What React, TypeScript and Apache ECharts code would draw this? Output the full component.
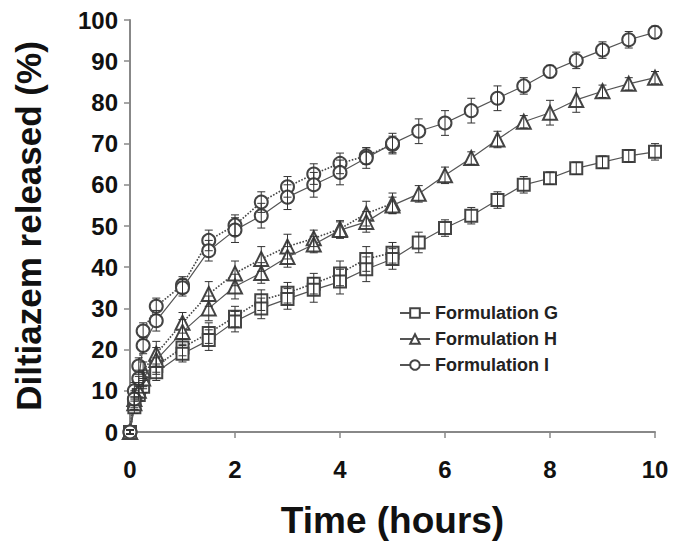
import React, { useEffect, useRef } from "react";
import * as echarts from "echarts";

const times = [0, 0.083, 0.167, 0.25, 0.5, 1, 1.5, 2, 2.5, 3, 3.5, 4, 4.5, 5, 5.5, 6, 6.5, 7, 7.5, 8, 8.5, 9, 9.5, 10];
const dottedTimes = [0, 0.083, 0.167, 0.25, 0.5, 1, 1.5, 2, 2.5, 3, 3.5, 4, 4.5, 5];

const gSolid = [0, 6, 9, 11, 14.5, 19, 22.3, 26.8, 30, 32.3, 34.5, 36.5, 39.5, 42, 46, 49.5, 52.5, 56.3, 60, 61.6, 64, 65.5, 67, 68];
const gDotted = [0, 7, 10, 12.5, 16, 20.5, 24, 28, 32, 33.8, 36, 38.5, 42, 43.5];
const hSolid = [0, 7, 10, 13, 17.5, 24.3, 30, 35.3, 38.6, 42.5, 45.5, 49, 51, 55, 57.8, 62.3, 66.5, 71, 75.3, 77.5, 80.6, 82.7, 84.5, 86];
const hDotted = [0, 8, 11.5, 15, 19, 26.5, 33.5, 38.5, 42, 45, 47, 49.3, 53, 55.5];
const iSolid = [0, 8, 13, 21, 27, 35, 44, 49, 52.5, 57, 60, 63, 66.5, 70, 73, 75, 78, 81, 84, 87.5, 90.2, 92.7, 95.2, 97];
const iDotted = [0, 10, 16, 24.5, 30.5, 35.7, 46.5, 50.2, 55.8, 59.5, 62.6, 65.2, 67, 69.8];

const gSolidErr = [0.5, 1.5, 1.5, 1.5, 2, 2, 2.5, 2.5, 2.5, 2.5, 3, 3, 3, 2.5, 2.5, 2, 2, 2, 2, 1.5, 1.5, 1.5, 1.5, 2];
const gDottedErr = [0.5, 1.5, 1.5, 2, 2, 2, 2.5, 2.5, 2.5, 2.5, 2.5, 3, 3, 2.5];
const hSolidErr = [0.5, 1.5, 2, 2, 3, 3, 3, 3, 2.5, 2.5, 2, 2, 2.5, 2, 2, 2, 1.5, 2, 1.5, 3, 3, 1.5, 1.5, 1.5];
const hDottedErr = [0.5, 1.5, 2, 2, 3, 2.5, 3, 3, 3, 3, 2, 2, 3, 2.5];
const iSolidErr = [0.5, 2, 2, 2, 2.5, 2, 2.5, 3, 3, 3, 3, 3, 2.5, 2.5, 3, 3, 3, 3, 2, 1.5, 2, 2, 2, 1.5];
const iDottedErr = [0.5, 2, 2, 2, 2, 2, 2.5, 2.5, 2.5, 2.5, 2.5, 2.5, 2, 2];

const legendNames = ["Formulation G", "Formulation H", "Formulation I"];
const FONT = "'Liberation Sans', Arial, sans-serif";

function pairs(xs: number[], ys: number[]) {
  return xs.map((x, i) => [x, ys[i]]);
}
function errs(xs: number[], ys: number[], e: number[]) {
  return xs.map((x, i) => [x, ys[i] - e[i], ys[i] + e[i]]);
}

const errRender = (params: any, api: any) => {
  const x = api.value(0);
  const lo = api.value(1);
  const hi = api.value(2);
  const p1 = api.coord([x, hi]);
  const p2 = api.coord([x, lo]);
  const w = 4;
  const st = { stroke: "#333", lineWidth: 1 };
  return {
    type: "group",
    children: [
      { type: "line", shape: { x1: p1[0], y1: p1[1], x2: p2[0], y2: p2[1] }, style: st },
      { type: "line", shape: { x1: p1[0] - w, y1: p1[1], x2: p1[0] + w, y2: p1[1] }, style: st },
      { type: "line", shape: { x1: p2[0] - w, y1: p2[1], x2: p2[0] + w, y2: p2[1] }, style: st },
    ],
  };
};

export default function App() {
  const ref = useRef<HTMLDivElement>(null);
  useEffect(() => {
    if (!ref.current) return;
    const chart = echarts.init(ref.current, null, { renderer: "svg" });
    const mk = (name: string, xs: number[], ys: number[], symbol: string, size: number, dotted: boolean) => ({
      name,
      type: "line",
      data: pairs(xs, ys),
      symbol,
      symbolSize: size,
      showAllSymbol: true,
      z: dotted ? 2 : 3,
      lineStyle: { color: dotted ? "#444" : "#555", width: dotted ? 1.6 : 1.2, type: dotted ? "dotted" : "solid" },
      itemStyle: { color: "#444", borderColor: "#444", borderWidth: 1 },
      emphasis: { disabled: true },
    });
    const eb = (xs: number[], ys: number[], e: number[]) => ({
      type: "custom",
      renderItem: errRender,
      data: errs(xs, ys, e),
      encode: { x: 0, y: [1, 2] },
      z: 5,
      silent: true,
    });
    chart.setOption({
      animation: false,
      backgroundColor: "#fff",
      grid: { left: 130, right: 19, top: 20, bottom: 112 },
      legend: {
        data: legendNames,
        orient: "vertical",
        left: 394,
        top: 299,
        itemWidth: 30,
        itemHeight: 12,
        itemGap: 8,
        textStyle: { fontFamily: FONT, fontWeight: "bold", fontSize: 18, color: "#222" },
      },
      xAxis: {
        type: "value",
        min: 0,
        max: 10,
        interval: 2,
        name: "Time (hours)",
        nameLocation: "middle",
        nameGap: 70,
        nameTextStyle: { fontFamily: FONT, fontWeight: "bold", fontSize: 37, color: "#111" },
        axisLine: { lineStyle: { color: "#888", width: 2 } },
        axisTick: { length: 6, lineStyle: { color: "#888", width: 1.5 } },
        axisLabel: { margin: 25, fontFamily: FONT, fontWeight: "bold", fontSize: 24, color: "#111" },
        splitLine: { show: false },
      },
      yAxis: {
        type: "value",
        min: 0,
        max: 100,
        interval: 10,
        name: "Diltiazem released (%)",
        nameLocation: "middle",
        nameGap: 84,
        nameTextStyle: { fontFamily: FONT, fontWeight: "bold", fontSize: 35, color: "#111" },
        axisLine: { show: true, lineStyle: { color: "#888", width: 2 } },
        axisTick: { show: true, length: 6, lineStyle: { color: "#888", width: 1.5 } },
        axisLabel: { margin: 12, fontFamily: FONT, fontWeight: "bold", fontSize: 24, color: "#111" },
        splitLine: { show: false },
      },
      series: [
        mk("G dotted", dottedTimes, gDotted, "emptyRect", 12, true),
        mk("H dotted", dottedTimes, hDotted, "emptyTriangle", 14, true),
        mk("I dotted", dottedTimes, iDotted, "emptyCircle", 13, true),
        mk("Formulation G", times, gSolid, "emptyRect", 12, false),
        mk("Formulation H", times, hSolid, "emptyTriangle", 14, false),
        mk("Formulation I", times, iSolid, "emptyCircle", 13, false),
        eb(dottedTimes, gDotted, gDottedErr),
        eb(dottedTimes, hDotted, hDottedErr),
        eb(dottedTimes, iDotted, iDottedErr),
        eb(times, gSolid, gSolidErr),
        eb(times, hSolid, hSolidErr),
        eb(times, iSolid, iSolidErr),
      ],
    });
    return () => chart.dispose();
  }, []);
  return <div ref={ref} style={{ position: "fixed", left: 0, top: 0, width: 674, height: 544 }} />;
}
